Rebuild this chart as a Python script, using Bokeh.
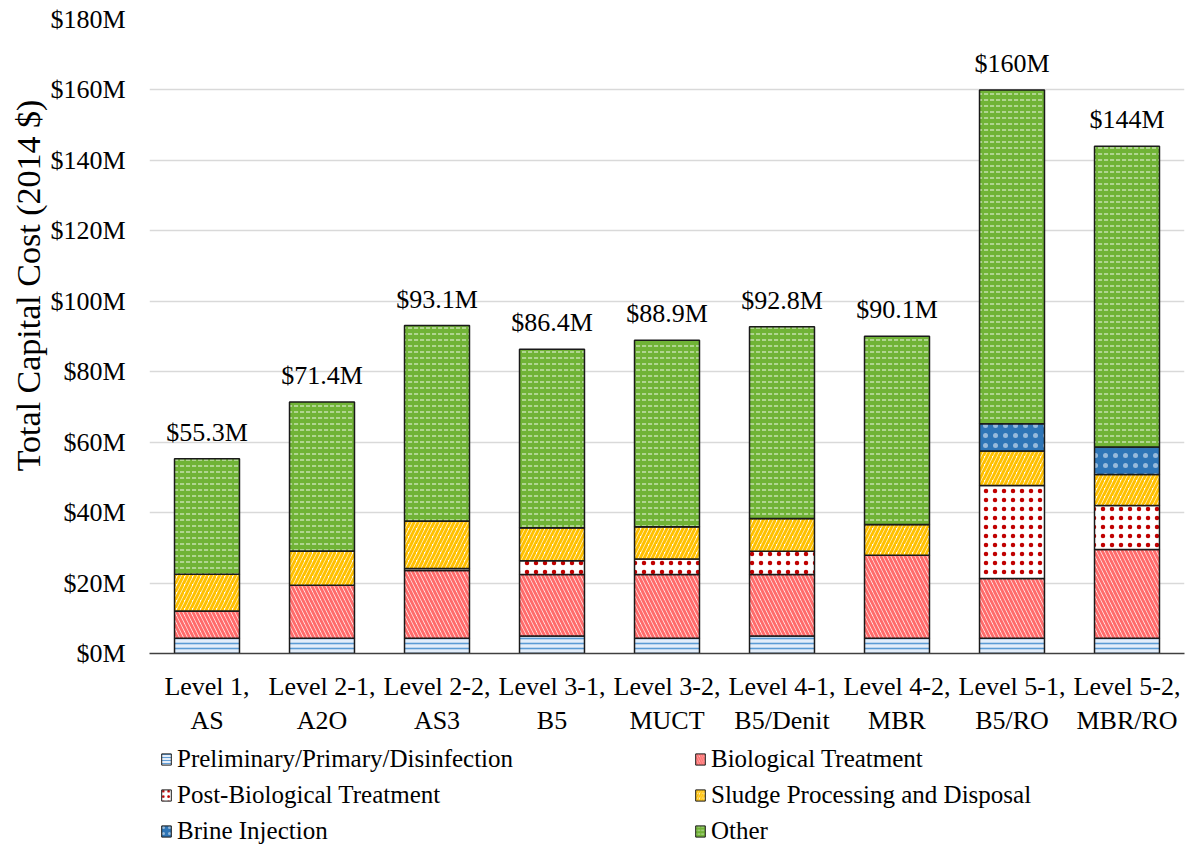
import numpy as np
from bokeh.plotting import figure
from bokeh.layouts import column
from bokeh.models import (ColumnDataSource, FactorRange, Range1d, Legend, LegendItem,
                          PrintfTickFormatter, FixedTicker)
from bokeh.core.properties import value
from bokeh.embed import file_html
from bokeh.resources import INLINE

# ---- data (millions of 2014 $) ----
categories = ["Level 1,\nAS", "Level 2-1,\nA2O", "Level 2-2,\nAS3", "Level 3-1,\nB5",
              "Level 3-2,\nMUCT", "Level 4-1,\nB5/Denit", "Level 4-2,\nMBR",
              "Level 5-1,\nB5/RO", "Level 5-2,\nMBR/RO"]
prelim = [4.3, 4.3, 4.3, 5.0, 4.3, 5.0, 4.3, 4.3, 4.3]
bio = [7.8, 15.1, 19.3, 17.4, 18.1, 17.4, 23.6, 17.0, 25.2]
post_bio = [0.0, 0.0, 0.5, 3.9, 4.4, 6.6, 0.0, 26.4, 12.5]
sludge = [10.4, 9.7, 13.5, 9.4, 9.2, 9.3, 8.7, 9.8, 8.8]
brine = [0.0, 0.0, 0.0, 0.0, 0.0, 0.0, 0.0, 7.7, 7.8]
other = [32.8, 42.3, 55.5, 50.7, 52.9, 54.5, 53.5, 94.8, 85.4]
total_labels = ["$55.3M", "$71.4M", "$93.1M", "$86.4M", "$88.9M", "$92.8M",
                "$90.1M", "$160M", "$144M"]
series_names = ["Preliminary/Primary/Disinfection", "Biological Treatment",
                "Post-Biological Treatment", "Sludge Processing and Disposal",
                "Brine Injection", "Other"]
y_ticks = [0, 20, 40, 60, 80, 100, 120, 140, 160, 180]
y_title = "Total Capital Cost (2014  $)"

keys = ["prelim", "bio", "post_bio", "sludge", "brine", "other"]
totals = (np.array(prelim) + np.array(bio) + np.array(post_bio) + np.array(sludge)
          + np.array(brine) + np.array(other))

source = ColumnDataSource(data=dict(cat=categories, prelim=prelim, bio=bio,
                                    post_bio=post_bio, sludge=sludge, brine=brine,
                                    other=other, total=totals, label=total_labels))

FONT = "Liberation Serif"

# series styles
fills = ["#e4eefa", "#ffffff", "#ffffff", "#ffffff", "#2e75b6", "#70b336"]
hatches = ["horizontal_line", "left_diagonal_line", "dot", "right_diagonal_line", "dot",
           "horizontal_dash"]
hatch_colors = ["#5b9bd5", "#ff6b6b", "#c00000", "#ffc000", "#ffffff", "#ffffff"]
hatch_alphas = [1.0, 1.0, 1.0, 1.0, 0.5, 0.75]
hatch_scales = [5, 8, 9, 8, 10, 6]
hatch_weights = [1.6, 3.0, 4.0, 3.0, 1.0, 1.2]

p = figure(x_range=FactorRange(*categories), y_range=Range1d(0, 180),
           width=1186, height=738, output_backend="svg", toolbar_location=None,
           min_border_left=149, min_border_right=2, min_border_top=19,
           min_border_bottom=83)

p.vbar_stack(keys, x="cat", width=0.565, source=source,
             fill_color=fills, hatch_pattern=hatches,
             hatch_color=hatch_colors, hatch_alpha=hatch_alphas,
             hatch_scale=hatch_scales, hatch_weight=hatch_weights,
             line_color="#1a1a1a", line_width=1.5)

p.text(x="cat", y="total", text="label", source=source, text_align="center",
       text_baseline="bottom", y_offset=-12, text_font=value(FONT),
       text_font_size="26px", text_color="black")

# axes
p.yaxis.ticker = FixedTicker(ticks=y_ticks)
p.yaxis.formatter = PrintfTickFormatter(format="$%dM")
p.yaxis.axis_line_color = None
p.yaxis.major_tick_line_color = None
p.yaxis.minor_tick_line_color = None
p.yaxis.major_label_standoff = 18
p.yaxis.major_label_text_font = FONT
p.yaxis.major_label_text_font_size = "26px"
p.yaxis.major_label_text_color = "black"
p.yaxis.axis_label = "\u00a0" * 13 + y_title
p.yaxis.axis_label_text_font = FONT
p.yaxis.axis_label_text_font_size = "34px"
p.yaxis.axis_label_text_font_style = "normal"
p.yaxis.axis_label_text_color = "black"
p.yaxis.axis_label_standoff = 0

p.xaxis.axis_line_color = "#404040"
p.xaxis.axis_line_width = 1.5
p.xaxis.major_tick_line_color = None
p.xaxis.minor_tick_line_color = None
p.xaxis.major_label_standoff = 12
p.xaxis.major_label_text_font = FONT
p.xaxis.major_label_text_font_size = "26px"
p.xaxis.major_label_text_color = "black"

p.xgrid.grid_line_color = None
p.ygrid.grid_line_color = "#d9d9d9"
p.ygrid.grid_line_width = 1.5
p.outline_line_color = None

# ---- legend strip (separate figure below the chart) ----
pl = figure(width=1186, height=108, x_range=Range1d(0, 1), y_range=Range1d(0, 1),
            output_backend="svg", toolbar_location=None, x_axis_type=None,
            y_axis_type=None, min_border=0)
pl.grid.visible = False
pl.outline_line_color = None

# invisible carrier glyphs (placed outside the visible range) for the legend icons
icon_renderers = []
for i in range(len(series_names)):
    r = pl.vbar(x=[-5.0], top=[0.0], width=0.1, fill_color=fills[i],
                hatch_pattern=hatches[i], hatch_color=hatch_colors[i],
                hatch_alpha=hatch_alphas[i], hatch_scale=hatch_scales[i] * 0.6,
                hatch_weight=hatch_weights[i] * 0.6, line_color="#1a1a1a",
                line_width=1)
    icon_renderers.append(r)

def make_legend(idx, loc):
    items = [LegendItem(label=series_names[i], renderers=[icon_renderers[i]]) for i in idx]
    return Legend(items=items, location=loc, orientation="vertical",
                  label_text_font=FONT, label_text_font_size="25px",
                  label_text_color="black", glyph_width=12, glyph_height=14,
                  label_standoff=5, label_height=28, spacing=8,
                  padding=0, margin=0, border_line_color=None,
                  background_fill_alpha=0)

pl.add_layout(make_legend([0, 2, 4], (11, 1)))
pl.add_layout(make_legend([1, 3, 5], (545, 1)))

layout = column(p, pl, spacing=0)
open("out.html", "w").write(file_html(layout, INLINE))
